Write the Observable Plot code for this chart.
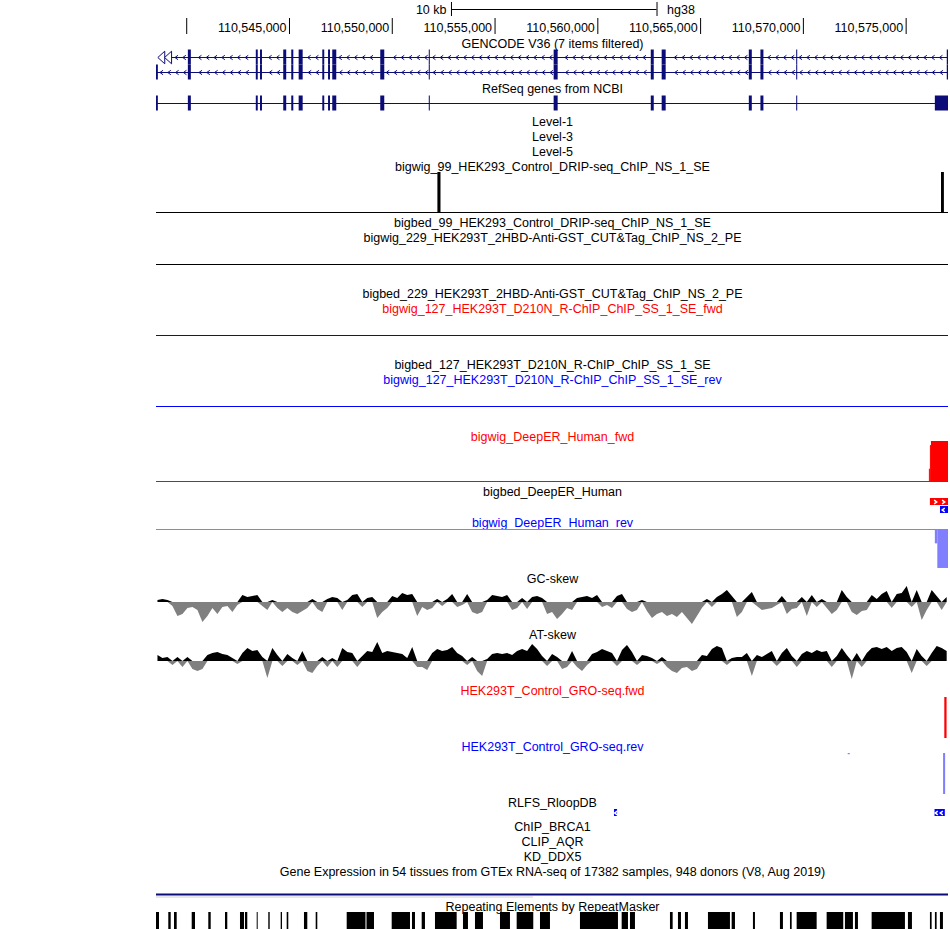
<!DOCTYPE html>
<html><head><meta charset="utf-8">
<script src="https://cdn.jsdelivr.net/npm/d3@7"></script>
<script src="https://cdn.jsdelivr.net/npm/@observablehq/plot@0.6"></script>
<style>
body{margin:0;background:#fff;}
#chart{position:relative;width:950px;height:929px;overflow:hidden;}
#chart svg{position:absolute;left:0;overflow:visible;background:none;}
</style></head><body><div id="chart"></div>
<script>
// ---------- data ----------
const chromStart = 110538530, chromEnd = 110577060;
const rulerTicks = [110540000,110545000,110550000,110555000,110560000,110565000,110570000,110575000];
const rulerLabels = ["","110,545,000","110,550,000","110,555,000","110,560,000","110,565,000","110,570,000","110,575,000"];
const scaleBar = [110552880, 110562880];
const scaleBarLabels = ["10 kb", "hg38"];

const firstExon = [110538530, 110538620];
const sharedExons = [[110540080,110540225],[110543385,110543480],[110543590,110543685],[110544720,110544865],[110545110,110545210],[110545470,110545665],[110546620,110546715],[110546900,110546995],[110547105,110547300],[110549440,110549635],[110551800,110551850],[110557875,110558070],[110562600,110562745],[110563130,110563325],[110567370,110567515],[110567935,110568080],[110569675,110569725]];
const lastExonGencode = [110577000, 110577060];
const lastExonRefseq = [110576420, 110577060];

const trackLabels = ["GENCODE V36 (7 items filtered)","RefSeq genes from NCBI","Level-1","Level-3","Level-5",
 "bigwig_99_HEK293_Control_DRIP-seq_ChIP_NS_1_SE","bigbed_99_HEK293_Control_DRIP-seq_ChIP_NS_1_SE",
 "bigwig_229_HEK293T_2HBD-Anti-GST_CUT&Tag_ChIP_NS_2_PE","bigbed_229_HEK293T_2HBD-Anti-GST_CUT&Tag_ChIP_NS_2_PE",
 "bigwig_127_HEK293T_D210N_R-ChIP_ChIP_SS_1_SE_fwd","bigbed_127_HEK293T_D210N_R-ChIP_ChIP_SS_1_SE",
 "bigwig_127_HEK293T_D210N_R-ChIP_ChIP_SS_1_SE_rev","bigwig_DeepER_Human_fwd","bigbed_DeepER_Human",
 "bigwig_DeepER_Human_rev","GC-skew","AT-skew","HEK293T_Control_GRO-seq.fwd","HEK293T_Control_GRO-seq.rev",
 "RLFS_RloopDB","ChIP_BRCA1","CLIP_AQR","KD_DDX5",
 "Gene Expression in 54 tissues from GTEx RNA-seq of 17382 samples, 948 donors (V8, Aug 2019)",
 "Repeating Elements by RepeatMasker"];
const trackStrand = ["","","","","","","","","","+","","-","+","","-","","","+","-","","","","","",""];

const dripPeaks = [{start:110552220,end:110552370,value:8.0},{start:110576720,end:110576860,value:8.0}];
const deepErFwd = [{start:110576130,end:110576180,value:1.2},{start:110576180,end:110576230,value:3.5},{start:110576230,end:110577060,value:3.9}];
const deepErRev = [{start:110576420,end:110576540,value:-1.4},{start:110576540,end:110577060,value:-3.8}];
const deepErBedFwd = [{start:110576180,end:110577060}];
const deepErBedRev = [{start:110576670,end:110577060}];
const groFwd = [{start:110576880,end:110576990,value:5.0}];
const groRev = [{start:110572180,end:110572280,value:-0.15},{start:110576820,end:110576920,value:-5.0}];
const rlfs = [{start:110560810,end:110560960},{start:110576405,end:110576905}];

// skew windows (fixed span)
const skewStart = 110538480, skewSpan = 243;
const gcSkew = [2,3,2,-4,-14,-12,-6,-5,-8,-20,-14,-6,-12,-5,-4,-10,-3,7,5,6,7,-4,-8,2,-6,-10,-6,-10,-12,-9,-6,3,-7,-10,3,5,4,-8,2,7,8,-5,4,5,-16,-10,-6,6,4,9,7,8,-14,
 -5,-8,-6,3,-4,3,8,-5,-3,8,-10,-12,-10,2,7,6,5,7,-8,-6,4,-7,5,6,4,-12,-10,-17,-12,-6,-8,4,5,6,4,7,-5,-3,-6,6,8,-7,-10,-8,2,-9,-16,-12,-10,-14,-12,-15,-10,
 -16,-22,-14,-6,3,-5,5,8,12,6,-15,-10,5,10,-4,-8,-7,-6,-3,6,-12,-7,-6,5,-14,7,-5,3,-6,-12,-8,12,5,-10,-13,-9,-8,7,3,8,11,-6,8,9,16,-5,12,-18,-8,12,6,-8,5];
const atSkew = [6,3,4,-4,4,-6,4,-8,-10,-8,6,8,9,7,6,3,-3,8,13,10,11,4,-17,13,6,-5,7,3,-4,10,-10,-12,-5,4,-6,3,-6,13,9,8,-6,5,10,9,19,8,10,9,8,7,3,14,-6,
 -6,-9,8,12,10,11,14,8,5,-4,4,-10,-15,2,7,8,7,8,6,10,12,10,17,12,5,-5,7,4,-8,-6,10,-6,-10,-4,7,9,12,10,8,-5,11,16,9,-4,6,5,3,-3,4,-6,-10,-12,-7,
 -6,-10,-8,6,5,12,15,13,-4,3,4,4,8,-15,6,4,7,10,-5,8,13,5,-6,7,10,8,11,9,10,-6,5,13,6,-18,8,-6,8,13,14,12,14,10,13,14,9,-12,12,5,-5,8,15,13,10];

const repeats = [[110538530,110538676],[110539128,110539245],[110539406,110539537],[110540267,110540427],[110541074,110541191],[110541887,110541998],[110542616,110542811],[110542859,110542971],[110543429,110543477],[110543993,110544061],[110544596,110544659],[110544888,110544966],[110545729,110545890],[110546299,110546377],[110547807,110548721],[110548770,110549135],[110549996,110550886],[110550983,110551129],[110551455,110551615],[110552102,110553157],[110553464,110553707],[110554048,110554437],[110555264,110555750],[110556076,110556884],[110557210,110557696],
 [110559155,110561004],[110561184,110561491],[110561588,110561831],[110563534,110563665],[110563923,110564069],[110564263,110564409],[110565382,110566452],[110566535,110566696],[110567571,110567668],[110568884,110569030],[110569372,110569455],[110569697,110570670],[110571156,110571964],[110572046,110572435],[110572533,110572679],[110573345,110574965],[110575111,110575306],[110576181,110576264],[110576424,110576507],[110576668,110576814]];

// ---------- layout & style ----------
const font = "'Liberation Sans', Arial, Helvetica, sans-serif";
const fs = 12.5;
const navy = "#0c0c78";
const strandColor = {"": "black", "+": "#ff0000", "-": "#0000ff"};
const labelY = [43,88,121,136,151,166,222,237,293,308,364,379,436,491,522,578,634,690,746,802,826,841,856,871,906];
const rowY = {g1: 57, g2: 72, rs: 103};
const exonHalf = 7.5;
const container = document.getElementById("chart");
const mid = (chromStart + chromEnd) / 2;
const xScale = {domain: [chromStart, chromEnd], range: [156, 948], axis: null};

const chevL = {draw(ctx, size){const r=Math.sqrt(size/Math.PI); ctx.moveTo(r*0.7,-r); ctx.lineTo(-r*0.7,0); ctx.lineTo(r*0.7,r);}};
const chevR = {draw(ctx, size){const r=Math.sqrt(size/Math.PI); ctx.moveTo(-r*0.7,-r); ctx.lineTo(r*0.7,0); ctx.lineTo(-r*0.7,r);}};
const triL = {draw(ctx, size){const r=Math.sqrt(size/Math.PI); ctx.moveTo(r*0.55,-r); ctx.lineTo(-r*0.55,0); ctx.lineTo(r*0.55,r); ctx.closePath();}};

const bpPerPx = (chromEnd - chromStart) / 792;
function chevronPositions(exons, from, to, stepPx, gapPx) {
  const out = [];
  for (let p = from; p < to; p += stepPx * bpPerPx) {
    if (!exons.some(([s,e]) => p > s - gapPx*bpPerPx && p < e + gapPx*bpPerPx)) out.push(p);
  }
  return out;
}

const g1 = [...sharedExons, lastExonGencode];
const g2 = [firstExon, ...sharedExons, lastExonGencode];
const rs = [firstExon, ...sharedExons, lastExonRefseq];
const exonRows = [
  ...g1.map(([s,e]) => ({s, e, y: rowY.g1})),
  ...g2.map(([s,e]) => ({s, e, y: rowY.g2})),
  ...rs.map(([s,e]) => ({s, e, y: rowY.rs}))
];
const chev1 = chevronPositions(g1, chromStart + 20*bpPerPx, chromEnd - 3*bpPerPx, 7.8, 2.5).map(x => ({x, y: rowY.g1}));
const chev2 = chevronPositions(g2, chromStart + 5*bpPerPx, chromEnd - 3*bpPerPx, 7.8, 2.5).map(x => ({x, y: rowY.g2}));

// ---------- overlay (text, ruler, genes, bed features) ----------
const overlay = Plot.plot({
  width: 950, height: 929, margin: 0,
  x: xScale,
  y: {domain: [0, 929], range: [0, 929], axis: null},
  color: {type: "identity"},
  style: {fontFamily: font, background: "none"},
  marks: [
    // scale bar
    Plot.ruleY([9], {x1: scaleBar[0], x2: scaleBar[1], stroke: "black"}),
    Plot.ruleX(scaleBar, {y1: 2, y2: 16, stroke: "black"}),
    Plot.text([scaleBarLabels[0]], {x: scaleBar[0], y: 9, text: d => d, textAnchor: "end", dx: -5, fontSize: fs}),
    Plot.text([scaleBarLabels[1]], {x: scaleBar[1], y: 9, text: d => d, textAnchor: "start", dx: 10, fontSize: fs}),
    // ruler
    Plot.ruleX(rulerTicks, {y1: 18, y2: 34, stroke: "black"}),
    Plot.text(rulerTicks, {x: d => d, y: 27, text: (d, i) => rulerLabels[i], textAnchor: "end", dx: -3, fontSize: fs}),
    // track labels
    Plot.text(trackLabels, {x: mid, y: (d, i) => labelY[i], text: d => d, fill: (d, i) => strandColor[trackStrand[i]], fontSize: fs}),
    // gene models
    Plot.ruleY([rowY.g1], {x1: chromStart + 15*bpPerPx, x2: chromEnd, stroke: navy}),
    Plot.ruleY([rowY.g2, rowY.rs], {x1: chromStart, x2: chromEnd, stroke: navy}),
    Plot.rect(exonRows, {x1: "s", x2: "e", y1: d => d.y - exonHalf, y2: d => d.y + exonHalf, fill: navy}),
    Plot.dot(chev1.concat(chev2), {x: "x", y: "y", symbol: chevL, r: 2.2, stroke: navy, fill: "none", strokeWidth: 1}),
    Plot.dot([chromStart + 4.8*bpPerPx, chromStart + 11.6*bpPerPx], {x: d => d, y: rowY.g1, symbol: triL, r: 6.3, stroke: navy, fill: "white", strokeWidth: 1}),
    // DeepER bigbed
    Plot.rect(deepErBedFwd, {x1: "start", x2: "end", y1: 498, y2: 505, fill: "#ff0000"}),
    Plot.dot(deepErBedFwd.flatMap(d => chevronPositions([], d.start + 5*bpPerPx, d.end, 8, 0)), {x: d => d, y: 501.5, symbol: chevR, r: 1.8, stroke: "white", fill: "none"}),
    Plot.rect(deepErBedRev, {x1: "start", x2: "end", y1: 506, y2: 513, fill: "#0000ff"}),
    Plot.dot(deepErBedRev.flatMap(d => chevronPositions([], d.start + 3*bpPerPx, d.end, 8, 0)), {x: d => d, y: 509.5, symbol: chevL, r: 1.8, stroke: "white", fill: "none"}),
    // RLFS
    Plot.rect(rlfs, {x1: "start", x2: "end", y1: 809, y2: 816, fill: "#0000ff"}),
    Plot.dot(rlfs.flatMap(d => chevronPositions([], d.start + 1.5*bpPerPx, d.end - 1*bpPerPx, 5, 0)), {x: d => d, y: 812.5, symbol: chevL, r: 1.8, stroke: "white", fill: "none"}),
    // GTEx separator
    Plot.ruleY([894], {x1: chromStart, x2: chromEnd, stroke: "#0c0c78", strokeWidth: 2}),
    Plot.ruleY([896.5], {x1: chromStart, x2: 110556870, stroke: "#d0d0d0", strokeWidth: 1}),
    // RepeatMasker
    Plot.rect(repeats, {x1: d => d[0], x2: d => d[1], y1: 912, y2: 929, fill: "black"})
  ]
});
overlay.style.top = "0px";
container.append(overlay);

// ---------- quantitative tracks ----------
function track(top, height, yDomain, marks) {
  const svg = Plot.plot({
    width: 950, height, marginLeft: 156, marginRight: 2, marginTop: 0, marginBottom: 0,
    x: xScale, y: {domain: yDomain, axis: null},
    style: {background: "none"},
    marks
  });
  svg.style.top = top + "px";
  container.append(svg);
}
// DRIP-seq
track(172, 40, [0, 8], [
  Plot.rectY(dripPeaks, {x1: "start", x2: "end", y: "value", fill: "black"}),
  Plot.ruleY([0], {stroke: "black"})
]);
// CUT&Tag (no signal)
track(224, 40, [0, 1], [Plot.ruleY([0], {stroke: "black"})]);
// R-ChIP fwd / rev (no signal)
track(295, 40, [0, 1], [Plot.ruleY([0], {stroke: "#0000ff"})]);
track(366, 40, [0, 1], [Plot.ruleY([0], {stroke: "#0000ff"})]);
// DeepER fwd
track(441, 40, [0, 3.9], [
  Plot.rectY(deepErFwd, {x1: "start", x2: "end", y: "value", fill: "#ff0000"}),
  Plot.ruleY([0], {stroke: "#ff0000"})
]);
// DeepER rev
track(529, 40, [-3.9, 0], [
  Plot.rectY(deepErRev, {x1: "start", x2: "end", y: "value", fill: "#8080ff"}),
  Plot.ruleY([0], {stroke: "#8080ff"})
]);
// skews
const gcData = gcSkew.map((v, i) => ({x: skewStart + (i + 0.5) * skewSpan, v}));
const atData = atSkew.map((v, i) => ({x: skewStart + (i + 0.5) * skewSpan, v}));
function skewMarks(data) {
  return [
    Plot.areaY(data, {x: "x", y: d => Math.min(0, d.v), fill: "#808080", curve: "linear"}),
    Plot.areaY(data, {x: "x", y: d => Math.max(0, d.v), fill: "black", curve: "linear"})
  ];
}
track(585, 40, [-23, 17], skewMarks(gcData));
track(640, 42, [-21, 21], skewMarks(atData));
// GRO-seq
track(697, 41, [0, 5], [Plot.rectY(groFwd, {x1: "start", x2: "end", y: "value", fill: "#ff0000"})]);
track(753, 41, [-5, 0], [Plot.rectY(groRev, {x1: "start", x2: "end", y: "value", fill: "#8080ff"})]);
</script></body></html>
